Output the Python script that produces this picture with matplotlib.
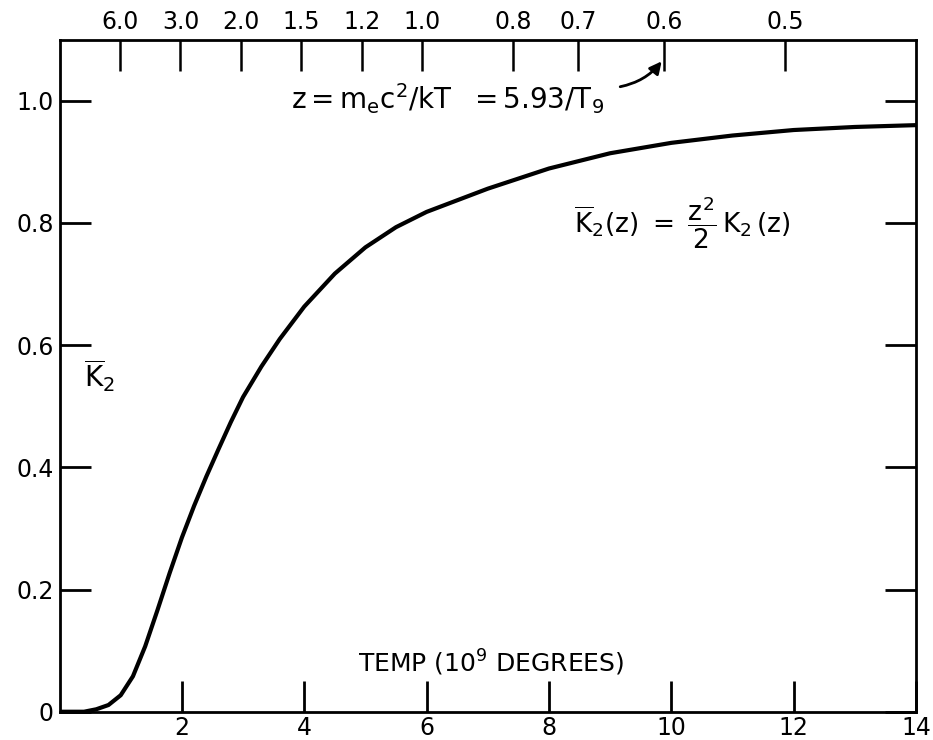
import matplotlib
matplotlib.use("Agg")
import matplotlib.pyplot as plt
import numpy as np

# curve: temperature (10^9 K) vs K2-bar
temp = [0.0, 0.4, 0.6, 0.8, 1.0, 1.2, 1.4, 1.6, 1.8, 2.0, 2.2, 2.4, 2.6, 2.8,
        3.0, 3.3, 3.6, 4.0, 4.5, 5.0, 5.5, 6.0, 7.0, 8.0, 9.0, 10.0, 11.0,
        12.0, 13.0, 14.0]
k2bar = [0.0, 0.0, 0.004, 0.011, 0.027, 0.058, 0.107, 0.166, 0.227, 0.285,
         0.337, 0.385, 0.430, 0.474, 0.515, 0.565, 0.610, 0.663, 0.717,
         0.760, 0.793, 0.818, 0.856, 0.889, 0.914, 0.931, 0.943, 0.952,
         0.957, 0.960]

x_ticks = [2, 4, 6, 8, 10, 12, 14]
x_labels = ["2", "4", "6", "8", "10", "12", "14"]
y_ticks = [0, 0.2, 0.4, 0.6, 0.8, 1.0]
y_labels = ["0", "0.2", "0.4", "0.6", "0.8", "1.0"]
z_ticks = [6.0, 3.0, 2.0, 1.5, 1.2, 1.0, 0.8, 0.7, 0.6, 0.5]
z_labels = ["6.0", "3.0", "2.0", "1.5", "1.2", "1.0", "0.8", "0.7", "0.6", "0.5"]

plt.rcParams['font.family'] = ['DejaVu Sans']
plt.rcParams['mathtext.fontset'] = 'dejavusans'

fig = plt.figure(figsize=(9.33, 7.4), dpi=100)
ax = fig.add_axes([0.0638, 0.0382, 0.918, 0.9083])

ax.plot(temp, k2bar, color='black', linewidth=3,
        solid_capstyle='round', solid_joinstyle='round')

ax.set_xlim(0, 14)
ax.set_ylim(0, 1.1)
for s in ax.spines.values():
    s.set_linewidth(2)

ax.set_xticks(x_ticks)
ax.set_xticklabels(x_labels)
ax.set_yticks(y_ticks)
ax.set_yticklabels(y_labels)
ax.tick_params(axis='both', direction='in', length=22, width=2,
               labelsize=17, pad=4, right=True)
ax.tick_params(axis='x', pad=3)

# top axis: z = 5.93 / T9
top = ax.twiny()
top.set_xlim(ax.get_xlim())
top.set_xticks([5.93 / z for z in z_ticks])
top.set_xticklabels(z_labels)
top.tick_params(axis='x', direction='in', length=22, width=1.8,
                labelsize=17, pad=4)
for s in top.spines.values():
    s.set_visible(False)

ax.text(7.05, 0.08, r"TEMP (10$^9$ DEGREES)", fontsize=18,
        ha='center', va='center')
ax.text(6.35, 1.003, r"$\mathrm{z = m_e c^2 / kT\ \ = 5.93 / T_9}$",
        fontsize=20, ha='center', va='center')
ax.annotate("", xy=(9.87, 1.068), xytext=(9.12, 1.022),
            arrowprops=dict(arrowstyle='-|>', color='black', lw=2,
                            connectionstyle='arc3,rad=0.2',
                            mutation_scale=18))
ax.text(10.18, 0.80,
        r"$\overline{\mathrm{K}}_2\mathrm{(z)}\ =\ \dfrac{\mathrm{z}^2}{2}\,\mathrm{K}_2\,\mathrm{(z)}$",
        fontsize=19, ha='center', va='center')
ax.text(0.65, 0.55, r"$\overline{\mathrm{K}}_2$", fontsize=20,
        ha='center', va='center')

fig.savefig("out.png", dpi=100)
